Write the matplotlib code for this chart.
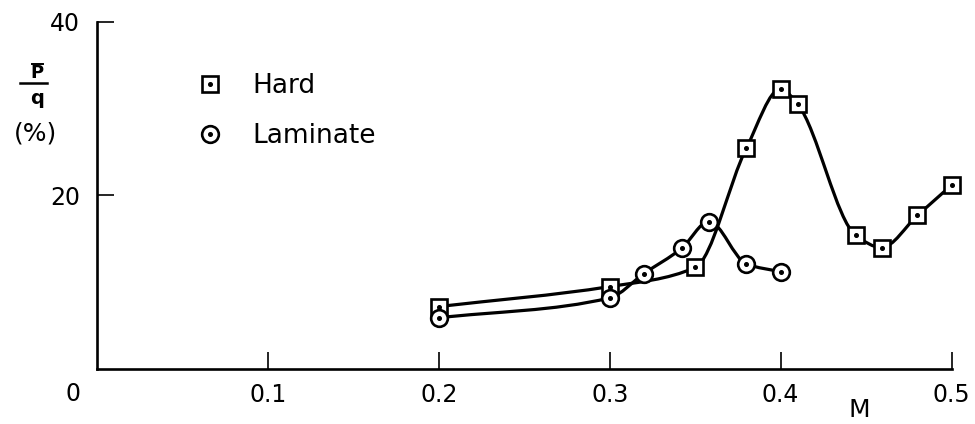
import numpy as np
import matplotlib.pyplot as plt
from matplotlib.path import Path
from matplotlib.patches import PathPatch
from matplotlib.lines import Line2D

# Mach number and mean pressure ratio P/q (%) for each wall
mach_hard = [0.20, 0.30, 0.35, 0.38, 0.40, 0.41, 0.444, 0.459, 0.48, 0.50]
p_hard = [7.2, 9.5, 11.7, 25.5, 32.3, 30.5, 15.4, 14.0, 17.7, 21.2]

mach_lam = [0.20, 0.30, 0.32, 0.342, 0.358, 0.38, 0.40]
p_lam = [5.9, 8.2, 11.0, 13.9, 17.0, 12.1, 11.2]

x_ticks = [0.1, 0.2, 0.3, 0.4, 0.5]
x_ticklabels = ['0.1', '0.2', '0.3', '0.4', '0.5']
y_ticks = [20, 40]
y_ticklabels = ['20', '40']


def pchip_slopes(x, y):
    x = np.asarray(x, float)
    y = np.asarray(y, float)
    h = np.diff(x)
    d = np.diff(y) / h
    m = np.zeros(len(x))
    m[0] = d[0]
    m[-1] = d[-1]
    for k in range(1, len(x) - 1):
        if d[k - 1] * d[k] <= 0:
            m[k] = 0.0
        else:
            w1 = 2 * h[k] + h[k - 1]
            w2 = h[k] + 2 * h[k - 1]
            m[k] = (w1 + w2) / (w1 / d[k - 1] + w2 / d[k])
    return m


def smooth_path(x, y):
    # hermite segments written as cubic bezier pieces
    m = pchip_slopes(x, y)
    verts = [(x[0], y[0])]
    codes = [Path.MOVETO]
    for k in range(len(x) - 1):
        h = x[k + 1] - x[k]
        verts += [(x[k] + h / 3, y[k] + m[k] * h / 3),
                  (x[k + 1] - h / 3, y[k + 1] - m[k + 1] * h / 3),
                  (x[k + 1], y[k + 1])]
        codes += [Path.CURVE4] * 3
    return Path(verts, codes)


W, H = 975, 424
fig = plt.figure(figsize=(W / 100, H / 100), dpi=100)
ax = fig.add_axes([0.0995, 0.1297, 0.8765, 0.8185])

for xs, ys in [(mach_hard, p_hard), (mach_lam, p_lam)]:
    ax.add_patch(PathPatch(smooth_path(xs, ys), fill=False, lw=2.3,
                           edgecolor='black', capstyle='round', zorder=2))

sq, = ax.plot(mach_hard, p_hard, ls='none', marker='s', ms=11, mfc='white',
              mec='black', mew=1.9, zorder=3, clip_on=False)
sq_dot, = ax.plot(mach_hard, p_hard, ls='none', marker='o', ms=2.6,
                  color='black', zorder=4, clip_on=False)
ci, = ax.plot(mach_lam, p_lam, ls='none', marker='o', ms=12, mfc='white',
              mec='black', mew=1.9, zorder=3)
ci_dot, = ax.plot(mach_lam, p_lam, ls='none', marker='o', ms=2.6,
                  color='black', zorder=4)

ax.legend([(sq, sq_dot), (ci, ci_dot)], ['Hard', 'Laminate'],
          loc='upper left', bbox_to_anchor=(0.0955, 0.921), frameon=False,
          fontsize=19, handlelength=0.6, handletextpad=1.29, labelspacing=0.9)

ax.set_xlim(0, 0.5)
ax.set_ylim(0, 40)
ax.set_xticks(x_ticks)
ax.set_xticklabels(x_ticklabels)
ax.set_yticks(y_ticks)
ax.set_yticklabels(y_ticklabels)
ax.tick_params(direction='in', length=12, width=1.2, labelsize=17, pad=10)
ax.tick_params(axis='y', pad=12)

for side in ['top', 'right']:
    ax.spines[side].set_visible(False)
for side in ['left', 'bottom']:
    ax.spines[side].set_linewidth(1.9)

# origin label sits to the left of the vertical axis
ax.annotate('0', xy=(0, 0), xytext=(-24, -25), textcoords='offset pixels',
            ha='center', va='center', fontsize=17)
ax.text(0.892, -0.118, 'M', transform=ax.transAxes, ha='center', va='center',
        fontsize=18)

# stacked y label: P-bar over q, then units
fig.text(37 / W, 1 - 73 / H, 'P', ha='center', va='center', fontsize=13,
         fontweight='bold')
fig.add_artist(Line2D([32 / W, 43 / W], [1 - 64 / H, 1 - 64 / H],
                      color='black', lw=1.4))
fig.add_artist(Line2D([20 / W, 47 / W], [1 - 83 / H, 1 - 83 / H],
                      color='black', lw=1.8))
fig.text(37 / W, 1 - 99 / H, 'q', ha='center', va='center', fontsize=14,
         fontweight='bold')
fig.text(35 / W, 1 - 133 / H, '(%)', ha='center', va='center', fontsize=18)

fig.savefig('out.png', dpi=100)
